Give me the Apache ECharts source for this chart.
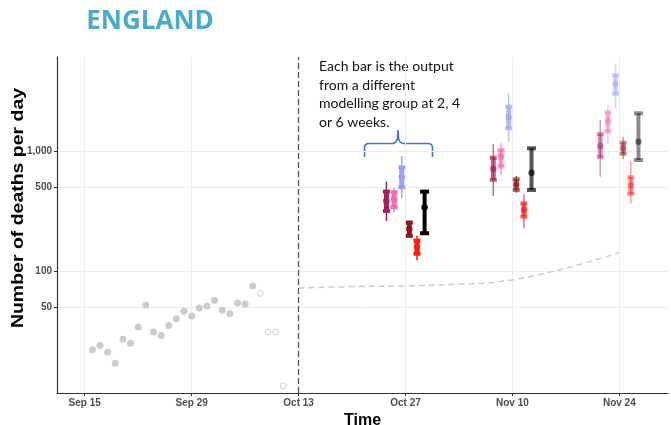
<!DOCTYPE html>
<html>
<head>
<meta charset="utf-8">
<title>England – deaths per day</title>
<script src="https://cdn.jsdelivr.net/npm/echarts@6/dist/echarts.min.js"></script>
<style>
  html, body { margin: 0; padding: 0; background: #ffffff; }
  #chart { width: 671px; height: 425px; }
</style>
</head>
<body>
<div id="chart"></div>
<script>
// Reported daily deaths (confirmed)
const observedDates = [
  '2020-09-16','2020-09-17','2020-09-18','2020-09-19','2020-09-20','2020-09-21',
  '2020-09-22','2020-09-23','2020-09-24','2020-09-25','2020-09-26','2020-09-27',
  '2020-09-28','2020-09-29','2020-09-30','2020-10-01','2020-10-02','2020-10-03',
  '2020-10-04','2020-10-05','2020-10-06','2020-10-07'
];
const observedDeaths = [22, 24, 21, 17, 27, 25, 34, 52, 31, 29, 35, 40, 46, 42, 49, 51, 57, 47, 44, 54, 53, 75];

// Recent days still subject to reporting delay
const provisionalDates = ['2020-10-08', '2020-10-09', '2020-10-10', '2020-10-11'];
const provisionalDeaths = [65, 31, 31, 11];

// Central projection after the cut-off date
const projectionDates = ['2020-10-13','2020-10-20','2020-10-27','2020-11-03','2020-11-06',
                         '2020-11-10','2020-11-13','2020-11-17','2020-11-20','2020-11-24'];
const projectionDeaths = [72, 74, 75, 77.5, 79, 84, 92, 105, 119, 142];

const cutoffDate = '2020-10-13';

// Forecast horizons: 2, 4 and 6 weeks
const horizonDates = ['2020-10-27', '2020-11-10', '2020-11-24'];
const horizonOpacity = [1, 0.66, 0.45];

// Per modelling group, per horizon: [lower95, lower50, median, upper50, upper95]
const modelColours = ['#a31e5b', '#f26db2', '#9da2f4', '#8c1a1c', '#ff1a14', '#000000'];
const modelA = [[261, 316, 383, 458, 555], [422, 573, 708, 879, 1137], [610, 886, 1101, 1386, 1812]];
const modelB = [[312, 340, 391, 453, 489], [631, 740, 896, 1019, 1159], [1159, 1448, 1778, 2101, 2415]];
const modelC = [[404, 498, 607, 731, 908], [1182, 1545, 1908, 2339, 3027], [2270, 2985, 3594, 4300, 5380]];
const modelD = [[191, 196, 224, 253, 262], [449, 473, 524, 581, 619], [853, 944, 1053, 1172, 1316]];
const modelE = [[123, 139, 158, 179, 196], [227, 283, 322, 366, 436], [366, 438, 514, 604, 815]];
const modelF = [[206, 206, 340, 458, 458], [473, 473, 659, 1053, 1053], [841, 841, 1195, 2061, 2061]];
const models = [modelA, modelB, modelC, modelD, modelE, modelF];

// Axis ticks
const xTicks = ['2020-09-15', '2020-09-29', '2020-10-13', '2020-10-27', '2020-11-10', '2020-11-24'];
const yTicks = [50, 100, 500, 1000];

const monthNames = ['Jan','Feb','Mar','Apr','May','Jun','Jul','Aug','Sep','Oct','Nov','Dec'];
const DAY = 86400000;
const toMs = s => +echarts.time.parse(s);

// Build forecast rows: [date, lo95, lo50, med, hi50, hi95, model, horizon]
const forecastRows = [];
models.forEach((m, mi) => {
  m.forEach((q, hi) => {
    forecastRows.push([toMs(horizonDates[hi]), q[0], q[1], q[2], q[3], q[4], mi, hi]);
  });
});

function renderForecast(params, api) {
  const mi = api.value(6);
  const hi = api.value(7);
  const date = api.value(0);
  const dayPx = api.size([DAY, 1])[0];
  const cx = api.coord([date, api.value(3)])[0] + (mi - 2.5) * dayPx;
  const yLo95 = api.coord([date, api.value(1)])[1];
  const yLo50 = api.coord([date, api.value(2)])[1];
  const yMed = api.coord([date, api.value(3)])[1];
  const yHi50 = api.coord([date, api.value(4)])[1];
  const yHi95 = api.coord([date, api.value(5)])[1];
  const color = modelColours[mi];
  const op = horizonOpacity[hi];
  const children = [];
  if (mi === 5) {
    // bracketed interval with median point
    children.push({ type: 'rect', shape: { x: cx - 2, y: yHi50, width: 4, height: yLo50 - yHi50 },
      style: { fill: color, opacity: op } });
    children.push({ type: 'rect', shape: { x: cx - 4.5, y: yHi50 - 2, width: 9, height: 4 },
      style: { fill: color, opacity: op } });
    children.push({ type: 'rect', shape: { x: cx - 4.5, y: yLo50 - 2, width: 9, height: 4 },
      style: { fill: color, opacity: op } });
    children.push({ type: 'circle', shape: { cx: cx, cy: yMed, r: 3.2 },
      style: { fill: color, opacity: op } });
  } else {
    children.push({ type: 'line', shape: { x1: cx, y1: yLo95, x2: cx, y2: yHi95 },
      style: { stroke: color, lineWidth: 1.5, opacity: op } });
    children.push({ type: 'rect', shape: { x: cx - 2.5, y: yHi50, width: 5, height: yLo50 - yHi50 },
      style: { fill: color, opacity: op } });
    children.push({ type: 'rect', shape: { x: cx - 3.5, y: yHi50 - 2, width: 7, height: 4 },
      style: { fill: color, opacity: op } });
    children.push({ type: 'rect', shape: { x: cx - 3.5, y: yLo50 - 2, width: 7, height: 4 },
      style: { fill: color, opacity: op } });
    children.push({ type: 'circle', shape: { cx: cx, cy: yMed, r: 3.2 },
      style: { fill: color, opacity: op } });
  }
  return { type: 'group', children: children };
}

const chart = echarts.init(document.getElementById('chart'), null, { renderer: 'canvas' });

chart.setOption({
  animation: false,
  backgroundColor: '#ffffff',
  grid: { left: 57, right: 3, top: 57, bottom: 32, containLabel: false, outerBoundsMode: 'none' },
  xAxis: {
    type: 'value',
    min: toMs('2020-09-11') + 0.37 * DAY,
    max: toMs('2020-11-30') + 0.37 * DAY,
    name: 'Time',
    nameLocation: 'middle',
    nameGap: 16,
    nameTextStyle: { fontFamily: 'Liberation Sans', fontWeight: 'bold', fontSize: 16, color: '#000',
                     verticalAlign: 'top' },
    axisLine: { lineStyle: { color: '#333333', width: 1.2 } },
    axisTick: { show: true, customValues: xTicks.map(toMs), length: 3, lineStyle: { color: '#333333' } },
    axisLabel: {
      customValues: xTicks.map(toMs),
      margin: 5,
      fontFamily: 'Liberation Sans', fontWeight: 'bold', fontSize: 10, color: '#4d4d4d',
      formatter: v => { const d = new Date(v); return monthNames[d.getMonth()] + ' ' + d.getDate(); }
    },
    splitLine: { show: true, lineStyle: { color: '#ececec', width: 1 } }
  },
  yAxis: {
    type: 'log',
    logBase: 10,
    min: 9.6,
    max: 6070,
    axisLine: { show: true, lineStyle: { color: '#333333', width: 1.2 } },
    axisTick: { show: true, customValues: yTicks, length: 3, lineStyle: { color: '#333333' } },
    axisLabel: {
      customValues: yTicks,
      margin: 5,
      fontFamily: 'Liberation Sans', fontWeight: 'bold', fontSize: 10, color: '#4d4d4d',
      formatter: v => Math.round(v).toLocaleString('en-US')
    },
    splitLine: { show: true, lineStyle: { color: '#ececec', width: 1 } },
    minorSplitLine: { show: false }
  },
  graphic: [
    { type: 'text', x: 150, y: 22,
      style: { text: 'ENGLAND', fill: '#4aabc6', font: 'bold 26px "Open Sans"',
               align: 'center', verticalAlign: 'middle' } },
    { type: 'text', x: 18, y: 208, rotation: Math.PI / 2, scaleX: 1.18,
      style: { text: 'Number of deaths per day', fill: '#000', font: 'bold 16.5px "Liberation Sans"',
               align: 'center', verticalAlign: 'middle' } },
    { type: 'text', x: 319, y: 57.5,
      style: { text: 'Each bar is the output\nfrom a different\nmodelling group at 2, 4\nor 6 weeks.',
               fill: '#111', font: '14px Lato', lineHeight: 18.5,
               align: 'left', verticalAlign: 'top' } },
    { type: 'polyline',
      shape: { points: [
        [364.5, 157], [364.5, 147], [365.4, 144.6], [368, 143.5], [393, 143.5], [395.8, 142.2],
        [397.4, 139], [398, 130], [398.6, 139], [400.2, 142.2], [403, 143.5], [429, 143.5],
        [431.6, 144.6], [432.5, 147], [432.5, 157]
      ] },
      style: { stroke: '#4575c0', lineWidth: 1.6, fill: null } }
  ],
  series: [
    {
      type: 'line',
      name: 'projection',
      data: projectionDates.map((d, i) => [toMs(d), projectionDeaths[i]]),
      smooth: 0.35,
      showSymbol: false,
      lineStyle: { color: '#cdcdcd', width: 1.5, type: [6, 4] },
      z: 2,
      markLine: {
        silent: true,
        symbol: 'none',
        label: { show: false },
        lineStyle: { color: '#555555', width: 1.3, type: [6, 3] },
        data: [{ xAxis: toMs(cutoffDate) }]
      }
    },
    {
      type: 'scatter',
      name: 'observed',
      data: observedDates.map((d, i) => [toMs(d), observedDeaths[i]]),
      symbol: 'circle',
      symbolSize: 7,
      itemStyle: { color: '#bfbfbf' },
      z: 3
    },
    {
      type: 'scatter',
      name: 'provisional',
      data: provisionalDates.map((d, i) => [toMs(d), provisionalDeaths[i]]),
      symbol: 'circle',
      symbolSize: 6,
      itemStyle: { color: '#ffffff', borderColor: '#c4c4c4', borderWidth: 1 },
      z: 3
    },
    {
      type: 'custom',
      name: 'forecasts',
      data: forecastRows,
      encode: { x: 0, y: [1, 2, 3, 4, 5] },
      renderItem: renderForecast,
      z: 4
    }
  ]
});
</script>
</body>
</html>
